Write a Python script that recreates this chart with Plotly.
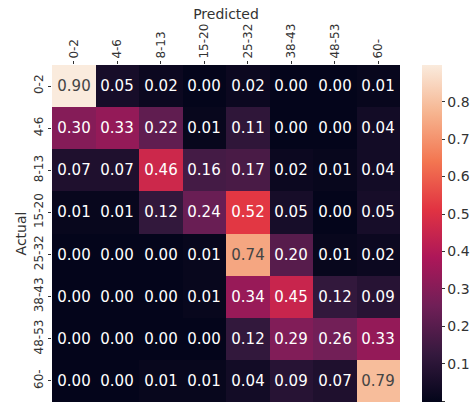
import plotly.graph_objects as go

labels = ["0-2", "4-6", "8-13", "15-20", "25-32", "38-43", "48-53", "60-"]
values = [
    [0.90, 0.05, 0.02, 0.00, 0.02, 0.00, 0.00, 0.01],
    [0.30, 0.33, 0.22, 0.01, 0.11, 0.00, 0.00, 0.04],
    [0.07, 0.07, 0.46, 0.16, 0.17, 0.02, 0.01, 0.04],
    [0.01, 0.01, 0.12, 0.24, 0.52, 0.05, 0.00, 0.05],
    [0.00, 0.00, 0.00, 0.01, 0.74, 0.20, 0.01, 0.02],
    [0.00, 0.00, 0.00, 0.01, 0.34, 0.45, 0.12, 0.09],
    [0.00, 0.00, 0.00, 0.00, 0.12, 0.29, 0.26, 0.33],
    [0.00, 0.00, 0.01, 0.01, 0.04, 0.09, 0.07, 0.79],
]
colorbar_ticks = [0.0, 0.1, 0.2, 0.3, 0.4, 0.5, 0.6, 0.7, 0.8]

rocket = [
    [0.0, "#03051a"],
    [1/7, "#35193e"],
    [2/7, "#701f57"],
    [3/7, "#ad1759"],
    [4/7, "#e13342"],
    [5/7, "#f37651"],
    [6/7, "#f6b48f"],
    [1.0, "#faebdd"],
]

font = "DejaVu Sans"

fig = go.Figure(go.Heatmap(
    z=values, x=labels, y=labels,
    colorscale=rocket, zmin=-0.002, zmax=0.898,
    texttemplate="%{z:.2f}",
    textfont=dict(family=font, size=15),
    colorbar=dict(
        x=1.063, xanchor="left", y=0.5, yanchor="middle",
        len=1.0, thickness=20, outlinewidth=0, xpad=0, ypad=0,
        tickmode="array", tickvals=colorbar_ticks,
        ticktext=[f"{t:.1f}" for t in colorbar_ticks],
        ticks="outside", ticklen=3, tickcolor="#333",
        tickfont=dict(family=font, size=14, color="#333"),
    ),
))

fig.update_layout(
    width=475, height=407,
    margin=dict(l=52, r=75, t=65, b=5, autoexpand=False),
    paper_bgcolor="white", plot_bgcolor="white",
    font=dict(family=font, color="#333"),
    xaxis=dict(
        side="top", tickangle=-90, ticks="outside", ticklen=3, tickcolor="#333",
        tickfont=dict(family=font, size=12, color="#333"), automargin=False,
        title=dict(text="Predicted", font=dict(family=font, size=14, color="#333"), standoff=0),
        showgrid=False, zeroline=False,
    ),
    yaxis=dict(
        autorange="reversed", tickangle=-90, ticks="outside", ticklen=3, tickcolor="#333",
        tickfont=dict(family=font, size=12, color="#333"), automargin=False,
        title=dict(text="Actual", font=dict(family=font, size=14, color="#333"), standoff=2),
        showgrid=False, zeroline=False,
    ),
)

fig.write_html(
    "out.html",
    config={"displayModeBar": False},
    post_script="document.body.style.margin='0';document.body.style.overflow='hidden';",
)
